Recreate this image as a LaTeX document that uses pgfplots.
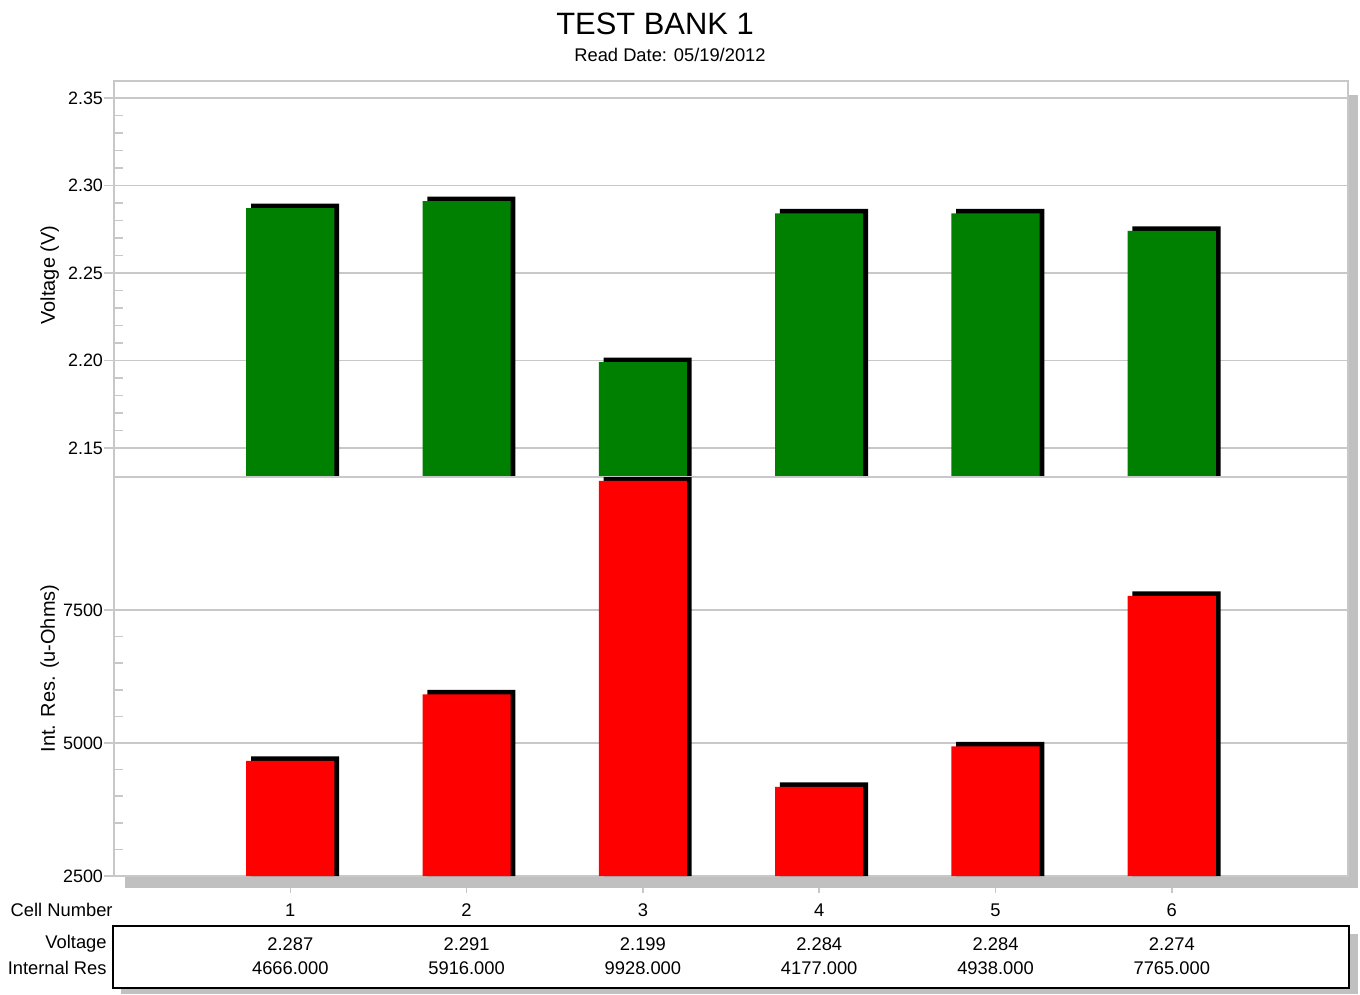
\documentclass[border=0pt]{standalone}
\usepackage{pgfplots}
\usepackage{pgfplotstable}
\pgfplotsset{compat=1.18}
\usepackage{fontspec}
\setmainfont{Liberation Sans}
\definecolor{barg}{RGB}{0,128,0}
\definecolor{barr}{RGB}{255,0,0}
\definecolor{shadowgray}{RGB}{192,192,192}
\definecolor{gridgray}{RGB}{200,200,200}

\pgfplotstableread{
cell v r
1 2.287 4666
2 2.291 5916
3 2.199 9928
4 2.284 4177
5 2.284 4938
6 2.274 7765
}\datatable

\pgfplotsset{
  panel/.style={
    scale only axis,
    width=617bp,
    xmin=0, xmax=7,
    anchor=south west,
    axis line style={draw=gridgray, line width=1bp},
    ymajorgrids,
    major grid style={draw=gridgray, line width=0.9bp},
    tick align=inside,
    minor tick length=4.5bp,
    major tick length=5bp,
    minor tick style={draw=gridgray, line width=0.8bp},
    major tick style={draw=gridgray, line width=0.9bp, xshift=-5bp},
    ytick pos=left,
    scaled y ticks=false,
    yticklabel style={font=\fontsize{9}{10}\selectfont, xshift=-2bp},
    /pgf/number format/assume math mode=true,
    ylabel style={font=\fontsize{12.5}{14}\selectfont},
    clip=true,
  },
  shadowbar/.style={ybar, bar width=0.5, bar shift=2.4bp, fill=black, draw=none},
}

\begin{document}
\begin{tikzpicture}[x=0.5bp,y=0.5bp]
\path[use as bounding box] (0,0) rectangle (1360,994);
\coordinate (UP) at (114,517);
\coordinate (LO) at (114,118);
% gray drop shadows of plot area
\fill[shadowgray] (1349,994-95) rectangle (1358,994-888);
\fill[shadowgray] (125,994-877) rectangle (1358,994-888);
% table box with shadow
\fill[shadowgray] (121,994-934) rectangle (1358,0);
\draw[fill=white, line width=1bp] (113,994-926) rectangle (1349,994-988);

% title
\node[font=\fontsize{15.5}{17}\selectfont] at (655,994-24) {TEST BANK 1};
\node[font=\fontsize{9.2}{10}\selectfont] at (670,994-55) {Read Date: 05/19/2012};

% upper panel: voltage
\begin{axis}[panel,
  at={(UP)}, height=198bp,
  ymin=2.1334, ymax=2.3597,
  ytick={2.15,2.20,2.25,2.30,2.35},
  minor y tick num=4,
  xtick=\empty,
  yticklabel style={/pgf/number format/fixed, /pgf/number format/fixed zerofill, /pgf/number format/precision=2},
  ylabel={Voltage (V)},
  every axis y label/.style={at={(axis description cs:-0.052,0.51)}, rotate=90, anchor=center},
]
\addplot[shadowbar] table[x=cell, y expr=\thisrow{v}+0.0026] {\datatable};
\addplot[ybar, bar width=0.5, fill=barg, draw=none] table[x=cell, y=v] {\datatable};
\end{axis}

% lower panel: internal resistance
\begin{axis}[panel,
  at={(LO)}, height=199.5bp,
  ymin=2500, ymax=10000,
  ytick={2500,5000,7500},
  minor y tick num=4,
  yticklabel style={/pgf/number format/1000 sep={}},
  xtick={1,2,3,4,5,6},
  major x tick style={draw=none},
  xticklabel style={font=\fontsize{9.2}{10}\selectfont, anchor=center, yshift=-17bp},
  ylabel={Int. Res. (u-Ohms)},
  every axis y label/.style={at={(axis description cs:-0.052,0.52)}, rotate=90, anchor=center},
]
\addplot[shadowbar] table[x=cell, y expr=\thisrow{r}+85] {\datatable};
\addplot[ybar, bar width=0.5, fill=barr, draw=none] table[x=cell, y=r] {\datatable};
\end{axis}

% small ticks below the shadow band
\foreach \i in {1,...,6} \draw[gridgray, line width=0.8bp] ({114+\i*176.3},994-888) -- ++(0,-5);

% table text
\begin{scope}[every node/.style={font=\fontsize{9.2}{10}\selectfont, inner sep=0pt}]
\node[anchor=east] at (113,994-910) {Cell Number};
\node[anchor=east] at (107,994-944) {Voltage};
\node[anchor=east] at (107,994-968) {Internal Res};
\foreach \i/\vv/\rr in {1/2.287/4666.000, 2/2.291/5916.000, 3/2.199/9928.000, 4/2.284/4177.000, 5/2.284/4938.000, 6/2.274/7765.000} {
  \node at ({114+\i*176.3},994-944) {\vv};
  \node at ({114+\i*176.3},994-968) {\rr};
}
\end{scope}
\end{tikzpicture}
\end{document}
